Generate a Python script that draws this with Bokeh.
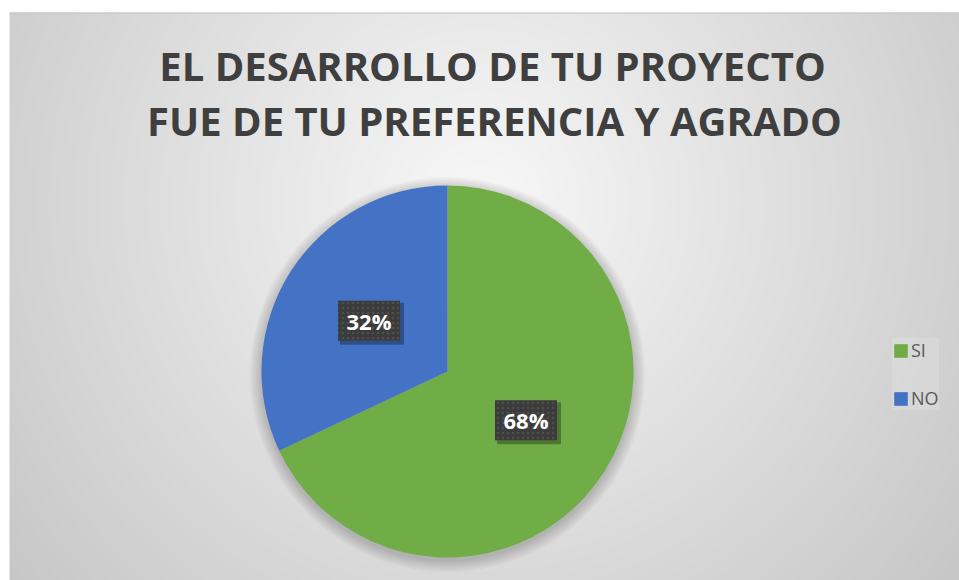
import numpy as np
from bokeh.plotting import figure
from bokeh.models import ColumnDataSource, Legend, LegendItem, Range1d
from bokeh.core.properties import value
from bokeh.embed import file_html
from bokeh.resources import INLINE

# ---- data ----
title_lines = ["EL DESARROLLO DE TU PROYECTO", "FUE DE TU PREFERENCIA Y AGRADO"]
categories = ["SI", "NO"]
values = [68, 32]
colors = ["#70AD47", "#4472C4"]

W, H = 959, 580
p = figure(width=W, height=H, output_backend="svg", toolbar_location=None,
           x_range=Range1d(0, W), y_range=Range1d(0, H), min_border=0,
           background_fill_color="white", border_fill_color="white",
           outline_line_color=None)
p.axis.visible = False
p.grid.visible = False

# background radial gradient (chart area)
gx0, gy0 = 9, 12
gw, gh = W - gx0, H - gy0
yy, xx = np.mgrid[0:gh, 0:gw]
sx = xx + gx0
sy = yy + gy0
d = np.sqrt((sx - 480.0) ** 2 + (sy - 200.0) ** 2)
c = np.clip(248 - 0.081 * d, 0, 255).astype(np.uint32)
img = (255 << 24) | (c << 16) | (c << 8) | c
img = np.flipud(img).astype(np.uint32)
p.image_rgba(image=[img], x=gx0, y=0, dw=gw, dh=gh)
p.line([gx0, W], [gh - 0.5, gh - 0.5], line_color="#c4c4c4", line_width=1)

# pie geometry
cx, cy, r = 447, 209, 186
total = float(sum(values))
fr = np.array(values) / total
cum = np.concatenate([[0], np.cumsum(fr)])
start = np.pi / 2 - 2 * np.pi * cum[1:]
end = np.pi / 2 - 2 * np.pi * cum[:-1]
mid = (start + end) / 2

src = ColumnDataSource(dict(cat=categories, val=values, color=colors,
                            start=start, end=end))

# soft shadow
for i in range(8):
    p.circle(x=[cx], y=[cy - 3], radius=r + 1 + i * 1.5, fill_color="black",
             fill_alpha=0.025, line_color=None)

wr = p.wedge(x=cx, y=cy, radius=r, start_angle="start", end_angle="end",
             fill_color="color", line_color=None, source=src)

# data labels
lx = cx + 0.5 * r * np.cos(mid)
ly = cy + 0.5 * r * np.sin(mid) + 1
labels = [f"{v}%" for v in values]
lsrc = ColumnDataSource(dict(x=lx, y=ly, sx=lx + 3, sy=ly - 3, t=labels))
p.rect(x="sx", y="sy", width=64, height=42, fill_color="black", fill_alpha=0.3,
       line_color=None, source=lsrc)
p.rect(x="x", y="y", width=62, height=40, fill_color="#3b3b3b", line_color=None,
       hatch_pattern="dot", hatch_color="#5a5a5a", hatch_scale=5, hatch_alpha=0.6,
       source=lsrc)
p.text(x="x", y="y", text="t", text_align="center", text_baseline="middle",
       text_color="white", text_font=value("Open Sans"), text_font_style="bold",
       text_font_size="22px", source=lsrc)

# title
tx = [492, 494]
ty = [515, 460]
tsrc = ColumnDataSource(dict(x=tx, y=ty, t=title_lines))
p.text(x="x", y="y", text="t", text_align="center", text_baseline="alphabetic",
       text_color="#3f3f3f", text_font=value("Open Sans"), text_font_style="bold",
       text_font_size="40px", source=tsrc)

# legend
legend = Legend(items=[LegendItem(label=categories[i], renderers=[wr], index=i)
                       for i in range(len(categories))],
                location=(892, 170), orientation="vertical",
                glyph_width=17, glyph_height=17, label_standoff=2,
                label_height=20, spacing=24, padding=10, margin=0,
                label_text_font="Open Sans", label_text_font_size="18px",
                label_text_color="#595959",
                background_fill_color="white", background_fill_alpha=0.15,
                border_line_color=None)
p.add_layout(legend)

open("out.html", "w").write(file_html(p, INLINE))
